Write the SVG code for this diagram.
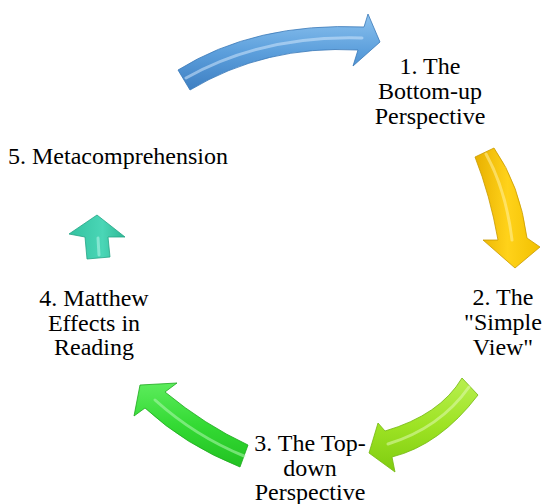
<svg xmlns="http://www.w3.org/2000/svg" width="543" height="504" viewBox="0 0 543 504">
<style>
text{font-family:'Liberation Serif','Times New Roman',serif;font-size:24px;fill:#000;}
.mid{text-anchor:middle;}
.arrow{stroke-width:0.8;stroke-linejoin:round;}
.hl{fill:none;stroke-width:3;stroke-linecap:round;opacity:0.55;}
</style>
<defs>
<linearGradient id="gBlue" x1="0" y1="0" x2="0" y2="1">
<stop offset="0" stop-color="#8cc2ef"/><stop offset="0.5" stop-color="#5c9fdc"/><stop offset="1" stop-color="#3e7fc2"/>
</linearGradient>
<linearGradient id="gYel" x1="0" y1="0" x2="1" y2="0">
<stop offset="0" stop-color="#e8b000"/><stop offset="0.5" stop-color="#ffd21a"/><stop offset="1" stop-color="#f2c000"/>
</linearGradient>
<linearGradient id="gLime" x1="0" y1="0" x2="0" y2="1">
<stop offset="0" stop-color="#b8ef50"/><stop offset="0.5" stop-color="#9ee324"/><stop offset="1" stop-color="#7fcc10"/>
</linearGradient>
<linearGradient id="gGreen" x1="0" y1="0" x2="0" y2="1">
<stop offset="0" stop-color="#5cec5c"/><stop offset="0.5" stop-color="#34da34"/><stop offset="1" stop-color="#22c222"/>
</linearGradient>
<linearGradient id="gTeal" x1="0" y1="0" x2="1" y2="0">
<stop offset="0" stop-color="#33c2a0"/><stop offset="0.6" stop-color="#4ad6b6"/><stop offset="1" stop-color="#2fb895"/>
</linearGradient>
</defs>
<g id="connectors">
<g id="arrow-1">
<path class="arrow" fill="url(#gBlue)" stroke="#3a78b8" d="M178,70 Q255,22 364,27 L368,14 L380,42 L353,66 L358,50 Q265,45 190,90 Z"/>
<path class="hl" stroke="#cfe6fb" d="M186,78 Q262,35 362,38"/>
</g>
<g id="arrow-2">
<path class="arrow" fill="url(#gYel)" stroke="#c99a00" d="M475,157 L494,148 Q520,185 527,238 L540,247 L515,268 L483,240 L498,240 Q490,195 475,157 Z"/>
<path class="hl" stroke="#fff0a0" d="M486,154 Q506,190 512,240"/>
</g>
<g id="arrow-3">
<path class="arrow" fill="url(#gLime)" stroke="#74b810" d="M462,378 L478,395 Q440,445 392,457 L395,472 L369,453 L378,423 L385,431 Q440,415 462,378 Z"/>
<path class="hl" stroke="#e0fab0" d="M469,387 Q440,428 388,444"/>
</g>
<g id="arrow-4">
<path class="arrow" fill="url(#gGreen)" stroke="#1ea81e" d="M248,445 Q205,425 165,392 L177,383 L140,385 L134,416 L145,408 Q185,445 240,467 Z"/>
<path class="hl" stroke="#b0f8b0" d="M244,456 Q195,436 155,400"/>
</g>
<g id="arrow-5">
<path class="arrow" fill="url(#gTeal)" stroke="#25a585" d="M97,215 L125,237 L108,237 L110,257 L87,259 L85,237 L69,234 Z"/>
<path class="hl" stroke="#b8f6ea" d="M98,238 L99,255"/>
</g>
</g>
<g id="node-1">
<text class="mid" x="430" y="74">1. The</text>
<text class="mid" x="430" y="99">Bottom-up</text>
<text class="mid" x="430" y="124">Perspective</text>
</g>
<g id="node-2">
<text class="mid" x="503" y="305">2. The</text>
<text class="mid" x="503" y="330">"Simple</text>
<text class="mid" x="503" y="355">View"</text>
</g>
<g id="node-3">
<text class="mid" x="310" y="451">3. The Top-</text>
<text class="mid" x="310" y="476">down</text>
<text class="mid" x="310" y="500">Perspective</text>
</g>
<g id="node-4">
<text class="mid" x="94" y="306">4. Matthew</text>
<text class="mid" x="94" y="331">Effects in</text>
<text class="mid" x="94" y="355">Reading</text>
</g>
<g id="node-5">
<text x="8" y="164">5. Metacomprehension</text>
</g>
</svg>
